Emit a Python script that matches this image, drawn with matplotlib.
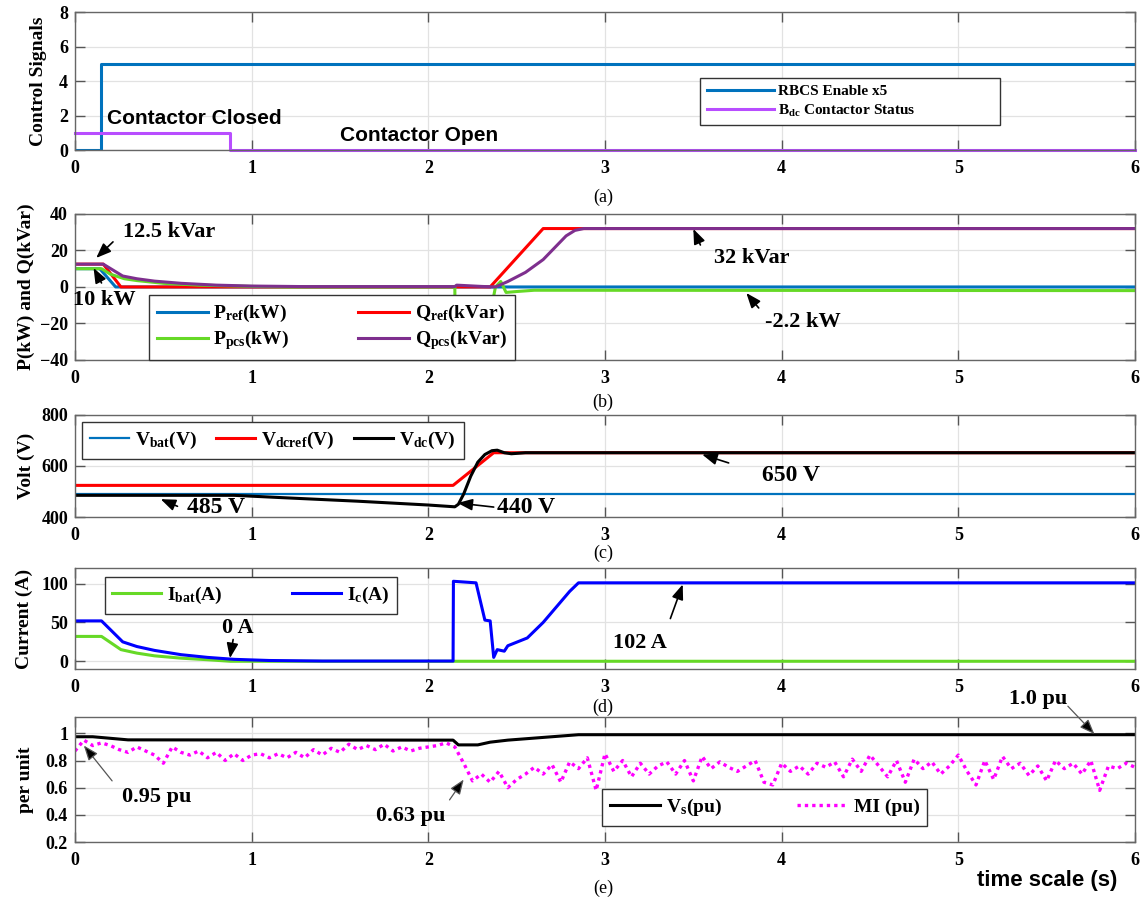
import numpy as np
import matplotlib.pyplot as plt

plt.rcParams['font.family'] = 'Liberation Serif'
plt.rcParams['font.weight'] = 'bold'
plt.rcParams['mathtext.fontset'] = 'custom'
plt.rcParams['mathtext.rm'] = 'Liberation Serif:bold'
plt.rcParams['mathtext.it'] = 'Liberation Serif:bold'
plt.rcParams['mathtext.bf'] = 'Liberation Serif:bold'

# ---- (a) control signals
t_rbcs = [0, 0.148, 0.148, 6]
rbcs = [0, 0, 5, 5]
t_cont = [0, 0.875, 0.875, 6]
cont = [1, 1, 0, 0]

# ---- (b) active / reactive power
t_pref = [0, 0.14, 0.23, 6]
pref = [10, 10, 0, 0]
t_qref = [0, 0.16, 0.26, 2.35, 2.65, 6]
qref = [12.5, 12.5, 0, 0, 32, 32]
t_ppcs = [0, 0.15, 0.2, 0.28, 0.35, 0.5, 0.7, 1.0, 1.2, 2.15, 2.152, 2.27, 2.33, 2.35, 2.38,
          2.41, 2.44, 2.5, 2.6, 6]
ppcs = [10, 10, 7, 4.5, 3.5, 2, 1, 0.3, 0, 0, -30, -30, -16, -15, 0, 3, -3, -2.5, -1.8, -2]
t_qpcs = [0, 0.16, 0.27, 0.35, 0.45, 0.6, 0.8, 1.0, 1.3, 2.15, 2.16, 2.3, 2.38, 2.45, 2.55,
          2.65, 2.72, 2.78, 2.83, 2.88, 6]
qpcs = [12.5, 12.5, 6, 4.5, 3.2, 2, 1, 0.5, 0.2, 0.2, 1, 0.3, 0, 3, 8, 15, 22, 28, 31, 32, 32]

# ---- (c) voltages
t_vbat = [0, 6]
vbat = [490, 490]
t_vref = [0, 2.14, 2.37, 6]
vref = [524, 524, 652, 652]
t_vdc = [0, 0.9, 1.2, 1.6, 2.0, 2.15, 2.17, 2.2, 2.24, 2.28, 2.32, 2.36, 2.39, 2.43, 2.47,
         2.55, 6]
vdc = [485, 485, 475, 462, 447, 440, 450, 490, 560, 615, 645, 660, 662, 652, 648, 652, 652]

# ---- (d) currents
t_ibat = [0, 0.15, 0.26, 0.35, 0.45, 0.6, 0.75, 0.88, 6]
ibat = [32, 32, 15, 10.5, 7, 4, 2, 0, 0]
t_ic = [0, 0.15, 0.27, 0.35, 0.45, 0.6, 0.75, 0.9, 1.1, 1.4, 2.14, 2.142, 2.27, 2.32, 2.35,
        2.37, 2.39, 2.43, 2.45, 2.56, 2.65, 2.8, 2.85, 6]
ic = [52, 52, 25, 19, 14, 8.5, 5, 2.5, 1, 0.3, 0.3, 103, 101, 53, 52, 5, 15, 13, 20, 30,
      50, 90, 101, 101]

# ---- (e) per unit quantities
t_vs = [0, 0.1, 0.3, 2.14, 2.17, 2.28, 2.35, 2.45, 2.7, 2.85, 6]
vs = [0.975, 0.975, 0.952, 0.95, 0.915, 0.915, 0.935, 0.95, 0.975, 0.99, 0.99]
mi = [0.87, 0.95, 0.91, 0.93, 0.91, 0.88, 0.86, 0.90, 0.87, 0.84, 0.78, 0.90, 0.86, 0.84,
      0.87, 0.82, 0.86, 0.80, 0.85, 0.80, 0.84, 0.85, 0.82, 0.85, 0.82, 0.86, 0.82, 0.88,
      0.84, 0.89, 0.86, 0.92, 0.88, 0.91, 0.88, 0.92, 0.87, 0.90, 0.87, 0.89, 0.90, 0.91,
      0.93, 0.90, 0.78, 0.65, 0.70, 0.64, 0.72, 0.60, 0.66, 0.70, 0.75, 0.70, 0.77, 0.64,
      0.79, 0.74, 0.82, 0.58, 0.85, 0.72, 0.80, 0.68, 0.78, 0.70, 0.76, 0.79, 0.70, 0.80,
      0.65, 0.83, 0.74, 0.79, 0.75, 0.72, 0.76, 0.80, 0.64, 0.62, 0.78, 0.72, 0.76, 0.70,
      0.78, 0.75, 0.79, 0.68, 0.81, 0.72, 0.84, 0.76, 0.68, 0.80, 0.64, 0.81, 0.74, 0.79,
      0.70, 0.76, 0.84, 0.72, 0.62, 0.80, 0.66, 0.83, 0.74, 0.78, 0.69, 0.76, 0.65, 0.80,
      0.74, 0.78, 0.70, 0.80, 0.58, 0.76, 0.74, 0.78, 0.75]
t_mi = np.linspace(0, 6, len(mi))

BLUE = '#0072BD'
RED = '#FF0000'
GREEN = '#66D926'
PURPLE = '#7E2F8E'
VIOLET = '#B84DFF'

fig = plt.figure(figsize=(11.4, 8.99), dpi=100)
L, W = 0.0658, 0.9298
ax_a = fig.add_axes([L, 0.8331, W, 0.1535])
ax_b = fig.add_axes([L, 0.5996, W, 0.1624])
ax_c = fig.add_axes([L, 0.4249, W, 0.1135])
ax_d = fig.add_axes([L, 0.2558, W, 0.1123])
ax_e = fig.add_axes([L, 0.0634, W, 0.1390])


def style(ax, ylim, yticks, ylabel, labx, yticklabels=None):
    ax.set_xlim(0, 6)
    ax.set_xticks(range(7))
    ax.set_ylim(*ylim)
    ax.set_yticks(yticks)
    if yticklabels is not None:
        ax.set_yticklabels(yticklabels)
    ax.set_axisbelow(True)
    ax.grid(True, color='#e2e2e2', lw=0.9)
    ax.tick_params(direction='in', top=True, right=True, length=7, width=1,
                   color='#555555', labelsize=13)
    ax.tick_params(axis='x', pad=7)
    ax.tick_params(axis='y', pad=5)
    for s in ax.spines.values():
        s.set_color('#666666')
        s.set_linewidth(1)
    ax.set_ylabel(ylabel, fontsize=14, fontweight='bold')
    ax.yaxis.set_label_coords(labx, 0.5)


def arrow(ax, tip, tail, color='black', lw=1.2):
    ax.annotate('', xy=tip, xytext=tail,
                arrowprops=dict(arrowstyle='-|>,head_length=0.9,head_width=0.35',
                                color=color, lw=lw, shrinkA=0, shrinkB=0,
                                fc='black', ec=color))


def leg(ax, bbox, loc, ncol, fs, hl, handles=None, spacing=0.3):
    kw = {} if handles is None else {'handles': handles}
    lg = ax.legend(loc=loc, bbox_to_anchor=bbox, mode='expand', ncol=ncol,
                   fontsize=fs, handlelength=hl, borderaxespad=0, fancybox=False,
                   framealpha=1, edgecolor='#333333', columnspacing=0.6,
                   handletextpad=0.3, labelspacing=spacing, **kw)
    lg.get_frame().set_linewidth(1)
    return lg


# (a)
ax_a.plot(t_rbcs, rbcs, color=BLUE, lw=2.2, label='RBCS Enable x5')
ax_a.plot(t_cont, cont, color=VIOLET, lw=2.2, label=r'B$_{\mathrm{dc}}$ Contactor Status',
          clip_on=False)
style(ax_a, (0, 8), [0, 2, 4, 6, 8], 'Control Signals', -0.026)
leg(ax_a, (0.59, 0.16, 0.283, 0.36), 'upper left', 1, 11, 4.4)
ax_a.text(0.18, 1.85, 'Contactor Closed', family='Liberation Sans', fontsize=15,
          fontweight='bold', va='center')
ax_a.text(1.50, 0.87, 'Contactor Open', family='Liberation Sans', fontsize=15,
          fontweight='bold', va='center')

# (b)
l1, = ax_b.plot(t_pref, pref, color=BLUE, lw=2.2, label=r'P$_{\mathrm{ref}}$(kW)')
l2, = ax_b.plot(t_qref, qref, color=RED, lw=2.2, label=r'Q$_{\mathrm{ref}}$(kVar)')
l3, = ax_b.plot(t_ppcs, ppcs, color=GREEN, lw=2.2, label=r'P$_{\mathrm{pcs}}$(kW)')
l4, = ax_b.plot(t_qpcs, qpcs, color=PURPLE, lw=2.2, label=r'Q$_{\mathrm{pcs}}$(kVar)')
style(ax_b, (-40, 40), [-40, -20, 0, 20, 40], 'P(kW) and Q(kVar)', -0.038)
leg(ax_b, (0.07, 0.0, 0.345, 0.397), 'lower left', 2, 14, 2.6,
    handles=[l1, l3, l2, l4], spacing=0.2)
arrow(ax_b, (0.12, 15.9), (0.215, 24.7))
ax_b.text(0.53, 30.1, '12.5 kVar', fontsize=16, ha='center', va='center')
arrow(ax_b, (0.105, 10.4), (0.15, 2.2))
ax_b.text(0.165, -7, '10 kW', fontsize=16, ha='center', va='center')
arrow(ax_b, (3.5, 31.8), (3.54, 23))
ax_b.text(3.83, 15.9, '32 kVar', fontsize=16, ha='center', va='center')
arrow(ax_b, (3.80, -3.3), (3.87, -11.5))
ax_b.text(4.12, -19.2, '-2.2 kW', fontsize=16, ha='center', va='center')

# (c)
ax_c.plot(t_vbat, vbat, color=BLUE, lw=1.6, label=r'V$_{\mathrm{bat}}$(V)')
ax_c.plot(t_vref, vref, color=RED, lw=2.2, label=r'V$_{\mathrm{dcref}}$(V)')
ax_c.plot(t_vdc, vdc, color='black', lw=2.2, label=r'V$_{\mathrm{dc}}$(V)')
style(ax_c, (400, 800), [400, 600, 800], 'Volt (V)', -0.038)
leg(ax_c, (0.0066, 0.0, 0.36, 0.93), 'upper left', 3, 14, 2.0)
arrow(ax_c, (0.485, 470), (0.58, 442))
ax_c.text(0.80, 436, '485 V', fontsize=17, ha='center', va='center')
arrow(ax_c, (2.165, 455), (2.37, 439))
ax_c.text(2.55, 436, '440 V', fontsize=17, ha='center', va='center')
arrow(ax_c, (3.55, 645), (3.7, 612))
ax_c.text(4.05, 563, '650 V', fontsize=17, ha='center', va='center')

# (d)
ax_d.plot(t_ibat, ibat, color=GREEN, lw=2.2, label=r'I$_{\mathrm{bat}}$(A)')
ax_d.plot(t_ic, ic, color='#0000FF', lw=2.2, label=r'I$_{\mathrm{c}}$(A)')
style(ax_d, (-10, 120), [0, 50, 100], 'Current (A)', -0.040)
leg(ax_d, (0.028, 0.0, 0.276, 0.91), 'upper left', 2, 14, 2.5)
arrow(ax_d, (0.877, 4), (0.895, 28))
ax_d.text(0.92, 43, '0 A', fontsize=16, ha='center', va='center')
arrow(ax_d, (3.44, 99), (3.37, 55))
ax_d.text(3.2, 24, '102 A', fontsize=16, ha='center', va='center')

# (e)
ax_e.plot(t_vs, vs, color='black', lw=2.2, label=r'V$_{\mathrm{s}}$(pu)')
ax_e.plot(t_mi, mi, color='#FF00FF', lw=2.4, ls=(0, (1, 1.2)), label='MI (pu)')
style(ax_e, (0.2, 1.12), [0.2, 0.4, 0.6, 0.8, 1.0], 'per unit', -0.039,
      ['0.2', '0.4', '0.6', '0.8', '1'])
leg(ax_e, (0.497, 0.0, 0.307, 0.424), 'upper left', 2, 14, 2.6)
arrow(ax_e, (0.05, 0.91), (0.21, 0.65), color='#555555', lw=0.9)
ax_e.text(0.46, 0.53, '0.95 pu', fontsize=16, ha='center', va='center')
arrow(ax_e, (2.2, 0.66), (2.12, 0.51), color='#555555', lw=0.9)
ax_e.text(1.90, 0.39, '0.63 pu', fontsize=16, ha='center', va='center')
arrow(ax_e, (5.77, 0.995), (5.62, 1.2), color='#555555', lw=0.9)
ax_e.text(5.45, 1.25, '1.0 pu', fontsize=16, ha='center', va='center')

for y, s in zip([0.781, 0.552, 0.385, 0.2136, 0.0122], ['(a)', '(b)', '(c)', '(d)', '(e)']):
    fig.text(0.529, y, s, fontsize=13, fontweight='normal', ha='center', va='center')
fig.text(0.919, 0.021, 'time scale (s)', family='Liberation Sans', fontsize=16,
         fontweight='bold', ha='center', va='center')

fig.savefig('out.png', dpi=100)
